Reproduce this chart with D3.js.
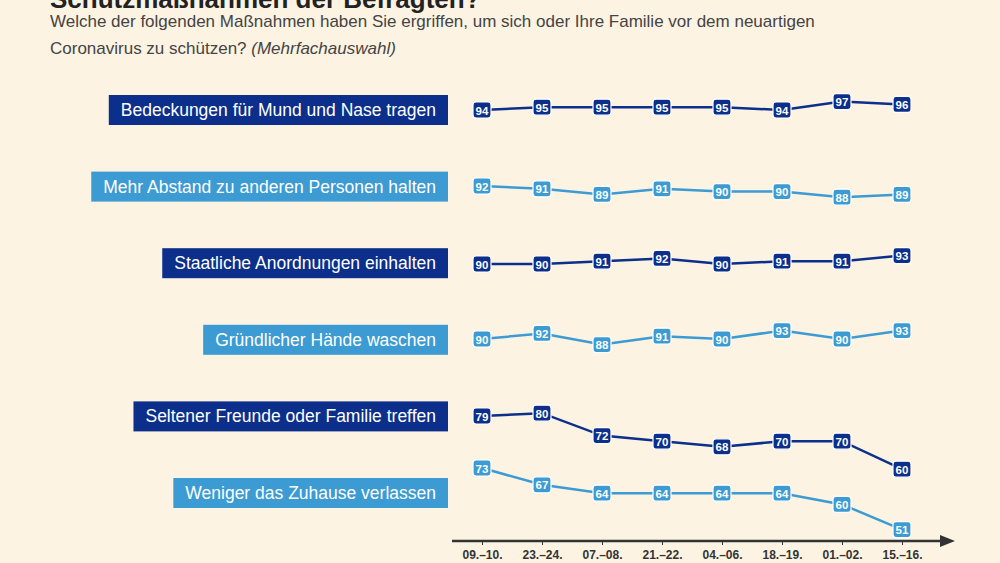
<!DOCTYPE html>
<html><head><meta charset="utf-8">
<script src="https://cdn.jsdelivr.net/npm/d3@7"></script>
<style>body{margin:0;background:#fdf3e3;font-family:Arial,"Liberation Sans",sans-serif}</style>
</head><body><svg id="c" width="1000" height="563"></svg>
<script>
const periods = ["09.–10.", "23.–24.", "07.–08.", "21.–22.", "04.–06.", "18.–19.", "01.–02.", "15.–16."];
const measures = ["Bedeckungen für Mund und Nase tragen", "Mehr Abstand zu anderen Personen halten", "Staatliche Anordnungen einhalten", "Gründlicher Hände waschen", "Seltener Freunde oder Familie treffen", "Weniger das Zuhause verlassen"];
const mask = [94, 95, 95, 95, 95, 94, 97, 96];
const distance = [92, 91, 89, 91, 90, 90, 88, 89];
const rules = [90, 90, 91, 92, 90, 91, 91, 93];
const hands = [90, 92, 88, 91, 90, 93, 90, 93];
const friends = [79, 80, 72, 70, 68, 70, 70, 60];
const home = [73, 67, 64, 64, 64, 64, 60, 51];
const series = [mask, distance, rules, hands, friends, home];

const dark = "#0b2f8a", light = "#3b9bd2";
const svg = d3.select("#c");
svg.append("text").attr("x", 50).attr("y", 8).attr("font-size", 26).attr("font-weight", "bold").attr("fill", "#222").text("Schutzmaßnahmen der Befragten?");
svg.append("text").attr("x", 50).attr("y", 27).attr("font-size", 17).attr("fill", "#444").text("Welche der folgenden Maßnahmen haben Sie ergriffen, um sich oder Ihre Familie vor dem neuartigen");
const t2 = svg.append("text").attr("x", 50).attr("y", 54).attr("font-size", 17).attr("fill", "#444");
t2.append("tspan").text("Coronavirus zu schützen? ");
t2.append("tspan").attr("font-style", "italic").text("(Mehrfachauswahl)");

const x = d3.scalePoint().domain(periods).range([482, 902]);
const rowY = d3.scalePoint().domain(measures).range([110, 493]);
const rowAnchor = [110, 186, 264, 339, 416, 468];
const k = 2.8;

measures.forEach((m, i) => {
  const col = i % 2 ? light : dark;
  const cy = rowY(m);
  const g = svg.append("g");
  const txt = g.append("text").attr("x", 436).attr("y", cy + 6).attr("text-anchor", "end").attr("font-size", 17.5).attr("fill", "#fff").text(m);
  const w = txt.node().getComputedTextLength();
  g.insert("rect", "text").attr("x", 436 - w - 12).attr("y", cy - 15).attr("width", w + 24).attr("height", 30).attr("fill", col);
  const vals = series[i], ref = vals[0];
  const y = v => rowAnchor[i] - (v - ref) * k;
  svg.append("path").datum(vals).attr("fill", "none").attr("stroke", col).attr("stroke-width", 2.5)
    .attr("d", d3.line().x((d, j) => x(periods[j])).y(d => y(d)));
  const pts = svg.append("g").selectAll("g").data(vals).join("g")
    .attr("transform", (d, j) => `translate(${x(periods[j])},${y(d)})`);
  pts.append("rect").attr("x", -9).attr("y", -8).attr("width", 18).attr("height", 16).attr("rx", 3)
    .attr("fill", col).attr("stroke", "#fff").attr("stroke-width", 1.2);
  pts.append("text").attr("text-anchor", "middle").attr("y", 4.5).attr("font-size", 11.5).attr("font-weight", "bold").attr("fill", "#fff").text(d => d);
});

const ay = 541;
svg.append("line").attr("x1", 452).attr("x2", 942).attr("y1", ay).attr("y2", ay).attr("stroke", "#333").attr("stroke-width", 2.5);
svg.append("path").attr("d", `M940,${ay - 6}L955,${ay}L940,${ay + 6}Z`).attr("fill", "#333");
const axis = d3.axisBottom(x).tickSize(4).tickPadding(5);
const ag = svg.append("g").attr("transform", `translate(0,${ay})`).call(axis);
ag.select(".domain").remove();
ag.selectAll("line").attr("stroke", "#333");
ag.selectAll("text").attr("font-size", 12).attr("font-weight", "bold").attr("fill", "#333").attr("font-family", "Arial,sans-serif");
</script></body></html>
